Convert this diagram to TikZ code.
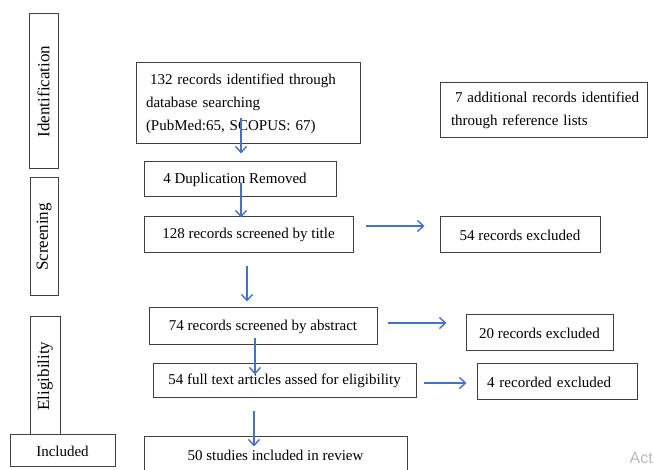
\documentclass[tikz,border=0pt]{standalone}
\usepackage{fontspec}
\setmainfont{Liberation Serif}
\setsansfont{Liberation Sans}
\usetikzlibrary{arrows.meta}
\definecolor{arrblue}{RGB}{68,114,196}
\definecolor{boxgray}{RGB}{64,64,64}
\begin{document}
\begin{tikzpicture}[x=1pt, y=-1pt,
        box/.style={draw=boxgray, line width=1pt, inner sep=0pt, font=\fontsize{15}{23}\selectfont},
        stagebox/.style={box, rotate=90, font=\fontsize{17}{20}\selectfont},
        arr/.style={-{Straight Barb[length=6pt, width=11pt]}, arrblue, line width=1.4pt}]
        \useasboundingbox (0, 0) rectangle (654, 470);
        % stages
        \node[stagebox, minimum width=155, minimum height=29] (ident) at (43.5, 91.5) {Identification};
        \node[stagebox, minimum width=118, minimum height=28] (screen) at (44, 237) {Screening};
        \node[stagebox, minimum width=118, minimum height=30] (elig) at (45, 376) {Eligibility};
        \node[box, minimum width=105, minimum height=32] (incl) at (62.5, 451) {Included};
        % main column
        \node[box, minimum height=81, text width=204, inner xsep=10, align=left] (rec) at (248, 103.5)
            {\hspace*{4pt}\makebox[198pt][s]{132 records identified through}\\database searching\\(PubMed:65, SCOPUS: 67)};
        \node[box, minimum width=192, minimum height=35] (dup) at (240, 179.5) {\hspace*{-10pt}4 Duplication Removed};
        \node[box, minimum width=209, minimum height=36] (title) at (248.5, 235) {128 records screened by title};
        \node[box, minimum width=228, minimum height=37] (abs) at (263, 326.5) {74 records screened by abstract};
        \node[box, minimum width=263, minimum height=34] (full) at (284.5, 381) {54 full text articles assed for eligibility};
        \node[box, minimum width=263, minimum height=40] (incl50) at (275.5, 457) {\raisebox{3pt}{50 studies included in review}};
        % side boxes
        \node[box, minimum height=55, text width=187, inner xsep=10, align=left] (add) at (543.5, 110.5)
            {\hspace*{5pt}\mbox{7 additional records identified}\\\hspace*{1pt}\mbox{through reference lists}};
        \node[box, minimum width=160, minimum height=36] (exc54) at (520, 235) {54 records excluded};
        \node[box, minimum width=147, minimum height=36] (exc20) at (539.5, 333) {20 records excluded};
        \node[box, minimum height=36, text width=140, inner xsep=10, align=left] (exc4) at (557, 382) {4 recorded excluded};
        % arrows
        \draw[arr] ([shift={(-7, -26)}]rec.south) -- ([shift={(1, -8)}]dup.north);
        \draw[arr] ([shift={(1, -14)}]dup.south) -- ([shift={(-7.5, 1)}]title.north);
        \draw[arr] ([shift={(12, -9)}]title.east) -- ([shift={(-15, -9)}]exc54.west);
        \draw[arr] ([shift={(-1.5, 13)}]title.south) -- ([shift={(-16, -6)}]abs.north);
        \draw[arr] ([shift={(10, -3.5)}]abs.east) -- ([shift={(-19, -10)}]exc20.west);
        \draw[arr] ([shift={(-8, -7)}]abs.south) -- ([shift={(-29.5, 11)}]full.north);
        \draw[arr] ([shift={(7, 2)}]full.east) -- ([shift={(-10, 1)}]exc4.west);
        \draw[arr] ([shift={(-30.5, 13)}]full.south) -- ([shift={(-21.5, 10)}]incl50.north);
        % watermark
        \node[anchor=east, inner sep=0pt, text=gray!55, font=\sffamily\fontsize{16}{18}\selectfont] (act) at (653, 458) {Act};
\end{tikzpicture}
\end{document}
